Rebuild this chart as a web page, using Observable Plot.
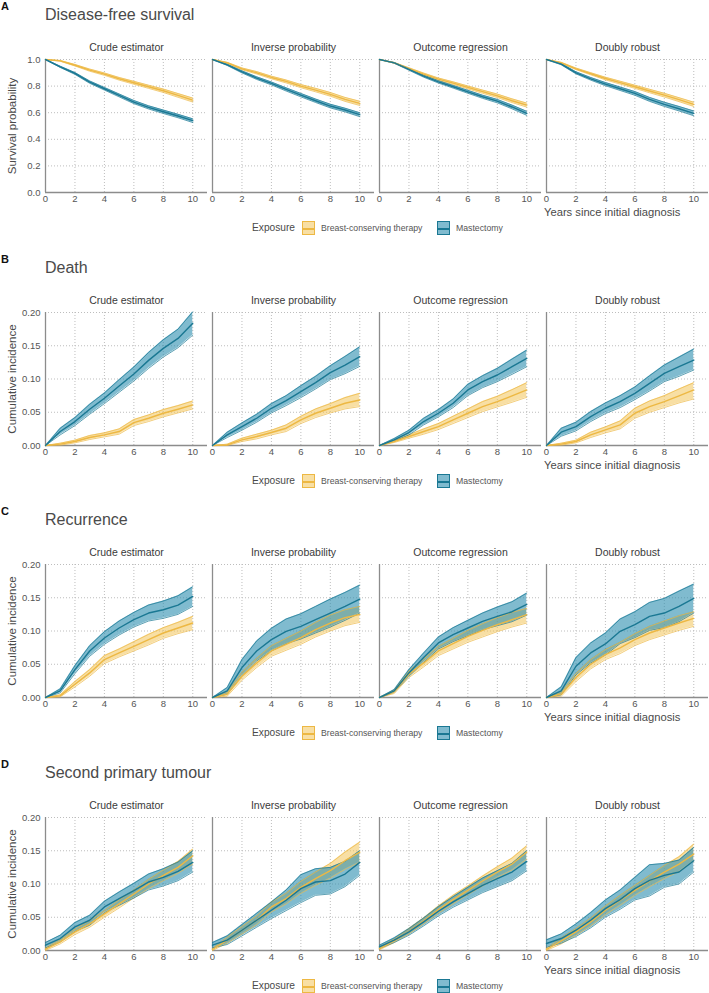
<!DOCTYPE html>
<html><head><meta charset="utf-8">
<script src="https://cdn.jsdelivr.net/npm/d3@7"></script>
<script src="https://cdn.jsdelivr.net/npm/@observablehq/plot@0.6"></script>
<style>
body{margin:0;background:#fff;font-family:Arial,"Liberation Sans",sans-serif;}
#root{position:relative;width:709px;height:993px;overflow:hidden;background:#fff}
.abs{position:absolute;white-space:nowrap;line-height:1}
.letter{font-weight:bold;font-size:11px;color:#111}
.title{font-size:16px;color:#4a4a4a}
.ylab{font-size:11.5px;color:#4a4a4a;transform:translate(-50%,-50%) rotate(-90deg)}
.xlab{font-size:11.2px;color:#4a4a4a}
.legtitle{font-size:10.2px;color:#4a4a4a}
.legtext{font-size:8.7px;color:#555}
.sw{position:absolute;width:13px;height:14px;box-sizing:border-box}
.sw i{position:absolute;left:0;right:0;top:6px;height:1.6px}
.chart{position:absolute;left:0}
</style></head><body><div id="root"></div>
<script>
// ---------- categories / labels ----------
const years = [0,1,2,3,4,5,6,7,8,9,10];
const methods = ["Crude estimator","Inverse probability","Outcome regression","Doubly robust"];
const groups = ["Breast-conserving therapy","Mastectomy"];
const panelLetters = ["A","B","C","D"];
const panelTitles = ["Disease-free survival","Death","Recurrence","Second primary tumour"];
const yLabels = ["Survival probability","Cumulative incidence","Cumulative incidence","Cumulative incidence"];
const xLabel = "Years since initial diagnosis";
const legendTitle = "Exposure";
const xTicks = [0,2,4,6,8,10];
const yTicksSurv = [0,0.2,0.4,0.6,0.8,1.0];
const yTicksInc = [0,0.05,0.10,0.15,0.20];

// ---------- A: disease-free survival (per method: crude, IPW, OR, DR) ----------
const dfsBctEst = [
 [1.0,0.99,0.957,0.92,0.89,0.855,0.825,0.795,0.765,0.73,0.695],
 [1.0,0.975,0.93,0.9,0.865,0.835,0.80,0.77,0.738,0.70,0.67],
 [1.0,0.975,0.932,0.89,0.852,0.822,0.79,0.758,0.727,0.69,0.657],
 [1.0,0.975,0.93,0.893,0.857,0.826,0.795,0.763,0.732,0.698,0.663]];
const dfsBctLo = [
 [1.0,0.987,0.951,0.912,0.881,0.845,0.814,0.783,0.752,0.716,0.68],
 [1.0,0.971,0.923,0.891,0.855,0.824,0.788,0.757,0.724,0.685,0.654],
 [1.0,0.972,0.926,0.882,0.843,0.812,0.779,0.746,0.714,0.676,0.642],
 [1.0,0.971,0.924,0.885,0.847,0.815,0.783,0.75,0.718,0.683,0.647]];
const dfsBctHi = [
 [1.0,0.993,0.963,0.928,0.899,0.865,0.836,0.807,0.778,0.744,0.71],
 [1.0,0.979,0.937,0.909,0.875,0.846,0.812,0.783,0.752,0.715,0.686],
 [1.0,0.978,0.938,0.898,0.861,0.832,0.801,0.77,0.74,0.704,0.672],
 [1.0,0.979,0.936,0.901,0.867,0.837,0.807,0.776,0.746,0.713,0.679]];
const dfsMastEst = [
 [1.0,0.945,0.895,0.83,0.78,0.73,0.68,0.64,0.607,0.575,0.54],
 [1.0,0.96,0.907,0.86,0.82,0.775,0.732,0.69,0.65,0.62,0.585],
 [1.0,0.975,0.925,0.875,0.832,0.795,0.757,0.72,0.687,0.643,0.595],
 [1.0,0.965,0.9,0.855,0.815,0.78,0.745,0.7,0.663,0.63,0.595]];
const dfsMastLo = [
 [1.0,0.94,0.888,0.821,0.77,0.719,0.668,0.628,0.594,0.562,0.526],
 [1.0,0.955,0.899,0.85,0.809,0.763,0.719,0.677,0.636,0.606,0.57],
 [1.0,0.972,0.919,0.867,0.823,0.785,0.746,0.708,0.674,0.629,0.58],
 [1.0,0.96,0.892,0.845,0.803,0.767,0.731,0.685,0.647,0.613,0.577]];
const dfsMastHi = [
 [1.0,0.95,0.902,0.839,0.79,0.741,0.692,0.652,0.62,0.588,0.554],
 [1.0,0.965,0.915,0.87,0.831,0.787,0.745,0.703,0.664,0.634,0.6],
 [1.0,0.978,0.931,0.883,0.841,0.805,0.768,0.732,0.7,0.657,0.61],
 [1.0,0.97,0.908,0.865,0.827,0.793,0.759,0.715,0.679,0.647,0.613]];

// ---------- B: death ----------
const deathBctEst = [
 [0,0.002,0.006,0.012,0.016,0.021,0.0345,0.041,0.0485,0.0545,0.061],
 [0,0.001,0.0085,0.0135,0.0195,0.026,0.0385,0.0485,0.056,0.0635,0.0685],
 [0,0.006,0.0135,0.021,0.0285,0.0385,0.0485,0.0585,0.066,0.0745,0.0835],
 [0,0.002,0.006,0.016,0.0235,0.031,0.0485,0.0585,0.066,0.0745,0.0835]];
const deathBctLo = [
 [0,0.0005,0.004,0.009,0.013,0.017,0.03,0.036,0.043,0.049,0.055],
 [0,0,0.006,0.01,0.016,0.021,0.033,0.042,0.049,0.055,0.0585],
 [0,0.0045,0.011,0.017,0.024,0.033,0.042,0.051,0.058,0.065,0.0725],
 [0,0.0005,0.004,0.012,0.019,0.025,0.041,0.05,0.057,0.064,0.07]];
const deathBctHi = [
 [0,0.0035,0.008,0.015,0.019,0.025,0.039,0.046,0.054,0.06,0.067],
 [0,0.002,0.011,0.017,0.023,0.031,0.044,0.055,0.063,0.072,0.0785],
 [0,0.0075,0.016,0.025,0.033,0.044,0.055,0.066,0.074,0.084,0.0945],
 [0,0.0035,0.008,0.02,0.028,0.037,0.056,0.067,0.075,0.085,0.0945]];
const deathMastEst = [
 [0,0.021,0.036,0.0545,0.071,0.0895,0.1075,0.128,0.146,0.161,0.184],
 [0,0.016,0.0285,0.041,0.056,0.0675,0.081,0.0945,0.1095,0.121,0.1335],
 [0,0.0085,0.0195,0.036,0.0485,0.0635,0.0835,0.096,0.106,0.1185,0.131],
 [0,0.02,0.0285,0.0435,0.056,0.066,0.0785,0.0935,0.1085,0.1185,0.1285]];
const deathMastLo = [
 [0,0.016,0.03,0.047,0.063,0.08,0.097,0.116,0.133,0.147,0.166],
 [0,0.012,0.023,0.035,0.049,0.06,0.072,0.085,0.099,0.108,0.119],
 [0,0.0065,0.016,0.031,0.043,0.057,0.075,0.087,0.096,0.107,0.1185],
 [0,0.014,0.022,0.036,0.048,0.057,0.069,0.082,0.096,0.104,0.1135]];
const deathMastHi = [
 [0,0.026,0.042,0.062,0.079,0.099,0.118,0.14,0.159,0.175,0.201],
 [0,0.02,0.034,0.047,0.063,0.075,0.09,0.104,0.12,0.134,0.1485],
 [0,0.0105,0.023,0.041,0.054,0.07,0.092,0.105,0.116,0.13,0.1435],
 [0,0.026,0.035,0.051,0.064,0.075,0.088,0.105,0.121,0.133,0.145]];

// ---------- C: recurrence ----------
const recBctEst = [
 [0,0.0025,0.02,0.037,0.057,0.067,0.077,0.087,0.097,0.1045,0.112],
 [0,0.005,0.032,0.052,0.07,0.08,0.09,0.102,0.112,0.12,0.125],
 [0,0.0085,0.035,0.052,0.07,0.081,0.092,0.101,0.1095,0.117,0.1245],
 [0,0.005,0.03,0.05,0.0645,0.0745,0.087,0.097,0.1045,0.112,0.119]];
const recBctLo = [
 [0,0.001,0.016,0.032,0.051,0.061,0.07,0.079,0.089,0.096,0.102],
 [0,0.002,0.026,0.045,0.062,0.071,0.08,0.091,0.1,0.108,0.113],
 [0,0.006,0.03,0.046,0.063,0.073,0.083,0.091,0.099,0.106,0.112],
 [0,0.002,0.024,0.043,0.057,0.066,0.078,0.087,0.094,0.101,0.107]];
const recBctHi = [
 [0,0.004,0.024,0.042,0.063,0.073,0.084,0.095,0.105,0.113,0.122],
 [0,0.008,0.038,0.059,0.078,0.089,0.1,0.113,0.124,0.132,0.137],
 [0,0.011,0.04,0.058,0.077,0.089,0.101,0.111,0.12,0.128,0.134],
 [0,0.008,0.036,0.057,0.072,0.083,0.096,0.107,0.115,0.123,0.129]];
const recMastEst = [
 [0,0.01,0.042,0.07,0.0895,0.1045,0.117,0.127,0.132,0.139,0.152],
 [0,0.01,0.045,0.07,0.087,0.0995,0.107,0.117,0.127,0.137,0.148],
 [0,0.01,0.037,0.06,0.082,0.0945,0.1045,0.1145,0.122,0.129,0.14],
 [0,0.01,0.047,0.067,0.0805,0.0995,0.1095,0.122,0.127,0.137,0.149]];
const recMastLo = [
 [0,0.007,0.036,0.062,0.08,0.094,0.106,0.115,0.119,0.125,0.137],
 [0,0.005,0.033,0.055,0.07,0.081,0.088,0.097,0.106,0.116,0.127],
 [0,0.008,0.032,0.053,0.073,0.084,0.093,0.102,0.108,0.114,0.124],
 [0,0.004,0.034,0.052,0.064,0.081,0.09,0.101,0.105,0.114,0.127]];
const recMastHi = [
 [0,0.013,0.048,0.078,0.099,0.115,0.128,0.139,0.145,0.153,0.1665],
 [0,0.015,0.057,0.085,0.104,0.118,0.126,0.137,0.148,0.158,0.169],
 [0,0.012,0.042,0.067,0.091,0.105,0.116,0.127,0.136,0.144,0.157],
 [0,0.016,0.06,0.082,0.097,0.118,0.129,0.143,0.149,0.16,0.1705]];

// ---------- D: second primary tumour ----------
const sptBctEst = [
 [0.002,0.013,0.028,0.04,0.055,0.07,0.085,0.1,0.113,0.125,0.1425],
 [0.0015,0.0155,0.0305,0.0455,0.0655,0.078,0.095,0.108,0.12,0.135,0.148],
 [0.003,0.0145,0.029,0.0445,0.0615,0.0765,0.0905,0.1045,0.118,0.13,0.148],
 [0.0015,0.0145,0.028,0.043,0.0605,0.0755,0.0905,0.1045,0.118,0.13,0.145]];
const sptBctLo = [
 [0,0.01,0.024,0.035,0.05,0.064,0.079,0.093,0.105,0.116,0.13],
 [0,0.011,0.025,0.039,0.058,0.07,0.086,0.098,0.109,0.122,0.133],
 [0.001,0.012,0.025,0.04,0.056,0.07,0.084,0.097,0.11,0.121,0.1375],
 [0,0.01,0.023,0.037,0.054,0.068,0.083,0.096,0.108,0.119,0.135]];
const sptBctHi = [
 [0.004,0.016,0.032,0.045,0.06,0.076,0.091,0.107,0.121,0.134,0.1525],
 [0.003,0.02,0.036,0.052,0.073,0.086,0.104,0.118,0.131,0.148,0.163],
 [0.005,0.017,0.033,0.049,0.067,0.083,0.097,0.112,0.126,0.139,0.1575],
 [0.003,0.019,0.033,0.049,0.067,0.083,0.098,0.113,0.128,0.141,0.16]];
const sptMastEst = [
 [0.008,0.018,0.0355,0.0455,0.0655,0.078,0.09,0.103,0.11,0.119,0.1325],
 [0.008,0.0155,0.0305,0.0455,0.0605,0.0755,0.093,0.103,0.105,0.115,0.1325],
 [0.0055,0.0155,0.028,0.043,0.059,0.073,0.0855,0.098,0.108,0.118,0.134],
 [0.0105,0.018,0.0305,0.0455,0.063,0.0765,0.093,0.1055,0.113,0.118,0.135]];
const sptMastLo = [
 [0.004,0.013,0.029,0.038,0.057,0.068,0.079,0.091,0.097,0.105,0.118],
 [0.004,0.009,0.022,0.035,0.048,0.06,0.072,0.083,0.085,0.096,0.113],
 [0.003,0.012,0.023,0.037,0.052,0.065,0.076,0.087,0.096,0.105,0.12],
 [0.005,0.011,0.021,0.034,0.05,0.062,0.076,0.082,0.095,0.1,0.118]];
const sptMastHi = [
 [0.012,0.023,0.042,0.053,0.074,0.088,0.101,0.115,0.123,0.133,0.15],
 [0.012,0.022,0.039,0.056,0.073,0.091,0.114,0.123,0.125,0.134,0.15],
 [0.008,0.019,0.033,0.049,0.066,0.081,0.095,0.109,0.12,0.131,0.15],
 [0.016,0.025,0.04,0.057,0.076,0.091,0.11,0.129,0.131,0.136,0.155]];

// ---------- colours ----------
const bctLine = "#EDB843", bctFill = "#F3C55A";
const mastLine = "#1A7893", mastFill = "#2C8DAF";

function buildRows(bE,bL,bH,mE,mL,mH){
  const rows = [];
  methods.forEach((m,i)=>{
    years.forEach((t,j)=>rows.push({method:m,group:groups[0],t,est:bE[i][j],lo:bL[i][j],hi:bH[i][j]}));
    years.forEach((t,j)=>rows.push({method:m,group:groups[1],t,est:mE[i][j],lo:mL[i][j],hi:mH[i][j]}));
  });
  return rows;
}

const panels = [
  {rows: buildRows(dfsBctEst,dfsBctLo,dfsBctHi,dfsMastEst,dfsMastLo,dfsMastHi), dom:[0,1], ticks:yTicksSurv, fmt:".1f"},
  {rows: buildRows(deathBctEst,deathBctLo,deathBctHi,deathMastEst,deathMastLo,deathMastHi), dom:[0,0.2], ticks:yTicksInc, fmt:".2f"},
  {rows: buildRows(recBctEst,recBctLo,recBctHi,recMastEst,recMastLo,recMastHi), dom:[0,0.2], ticks:yTicksInc, fmt:".2f"},
  {rows: buildRows(sptBctEst,sptBctLo,sptBctHi,sptMastEst,sptMastLo,sptMastHi), dom:[0,0.2], ticks:yTicksInc, fmt:".2f"}
];
const rowOffsets = [0,253,505,758];

function makeChart(p){
  const data = p.rows;
  const isB = d => d.group === groups[0];
  const isM = d => d.group === groups[1];
  return Plot.plot({
    width: 709, height: 180,
    marginLeft: 45, marginRight: 1, marginTop: 29, marginBottom: 18,
    style: {fontFamily: "Arial, 'Liberation Sans', sans-serif", fontSize: "9.5px", color: "#555", background: "transparent", overflow: "visible"},
    facet: {data, x: "method"},
    fx: {domain: methods, paddingInner: 0.03, paddingOuter: 0, axis: null, label: null},
    x: {domain: [0, 11], ticks: xTicks, tickSize: 0, tickPadding: 3, label: null, tickFormat: d3.format("d")},
    y: {domain: p.dom, ticks: p.ticks, tickSize: 0, tickPadding: 5, label: null, tickFormat: d3.format(p.fmt)},
    marks: [
      Plot.ruleX(xTicks.slice(1), {stroke: "#bdbdbd", strokeDasharray: "1,2", strokeWidth: 1}),
      Plot.ruleY(p.ticks.slice(1), {stroke: "#bdbdbd", strokeDasharray: "1,2", strokeWidth: 1}),
      Plot.ruleX([0], {stroke: "#8c8c8c", strokeWidth: 1.3}),
      Plot.ruleY([p.dom[0]], {stroke: "#8c8c8c", strokeWidth: 1.3}),
      Plot.areaY(data, {filter: isB, x: "t", y1: "lo", y2: "hi", fill: bctFill, fillOpacity: 0.55}),
      Plot.areaY(data, {filter: isM, x: "t", y1: "lo", y2: "hi", fill: mastFill, fillOpacity: 0.6}),
      Plot.lineY(data, {filter: isB, x: "t", y: "lo", stroke: bctLine, strokeWidth: 0.7}),
      Plot.lineY(data, {filter: isB, x: "t", y: "hi", stroke: bctLine, strokeWidth: 0.7}),
      Plot.lineY(data, {filter: isM, x: "t", y: "lo", stroke: mastLine, strokeWidth: 0.7}),
      Plot.lineY(data, {filter: isM, x: "t", y: "hi", stroke: mastLine, strokeWidth: 0.7}),
      Plot.lineY(data, {filter: isB, x: "t", y: "est", stroke: bctLine, strokeWidth: 1.4}),
      Plot.lineY(data, {filter: isM, x: "t", y: "est", stroke: mastLine, strokeWidth: 1.4}),
      Plot.text(data, {filter: d => d.t === 0 && isB(d), text: "method", frameAnchor: "top", dy: -16, fontSize: 10.5, fill: "#3a3a3a"})
    ]
  });
}

const root = document.getElementById("root");
function addDiv(cls, text, css){
  const d = document.createElement("div");
  d.className = "abs " + cls;
  d.textContent = text;
  Object.assign(d.style, css);
  root.appendChild(d);
  return d;
}
function addSwatch(left, top, fill, fillOp, line){
  const s = document.createElement("div");
  s.className = "sw";
  s.style.left = left + "px"; s.style.top = top + "px";
  s.style.border = "1px solid " + line;
  s.style.background = d3.color(fill).copy({opacity: fillOp}).formatRgb();
  const i = document.createElement("i");
  i.style.background = line;
  s.appendChild(i);
  root.appendChild(s);
}

panels.forEach((p, r) => {
  const oy = rowOffsets[r];
  addDiv("letter", panelLetters[r], {left: "1px", top: (oy + 1) + "px"});
  addDiv("title", panelTitles[r], {left: "45px", top: (oy + 7) + "px"});
  const chart = makeChart(p);
  const wrap = document.createElement("div");
  wrap.className = "chart";
  wrap.style.top = (oy + 30) + "px";
  wrap.appendChild(chart);
  root.appendChild(wrap);
  addDiv("ylab", yLabels[r], {left: "13px", top: (oy + 126) + "px"});
  addDiv("xlab", xLabel, {left: "544px", top: (oy + 206.5) + "px"});
  addDiv("legtitle", legendTitle, {left: "252px", top: (oy + 223) + "px"});
  addSwatch(302, oy + 221, bctFill, 0.55, bctLine);
  addDiv("legtext", groups[0], {left: "321px", top: (oy + 224) + "px"});
  addSwatch(437, oy + 221, mastFill, 0.6, mastLine);
  addDiv("legtext", groups[1], {left: "456px", top: (oy + 224) + "px"});
});
</script>
</body></html>
